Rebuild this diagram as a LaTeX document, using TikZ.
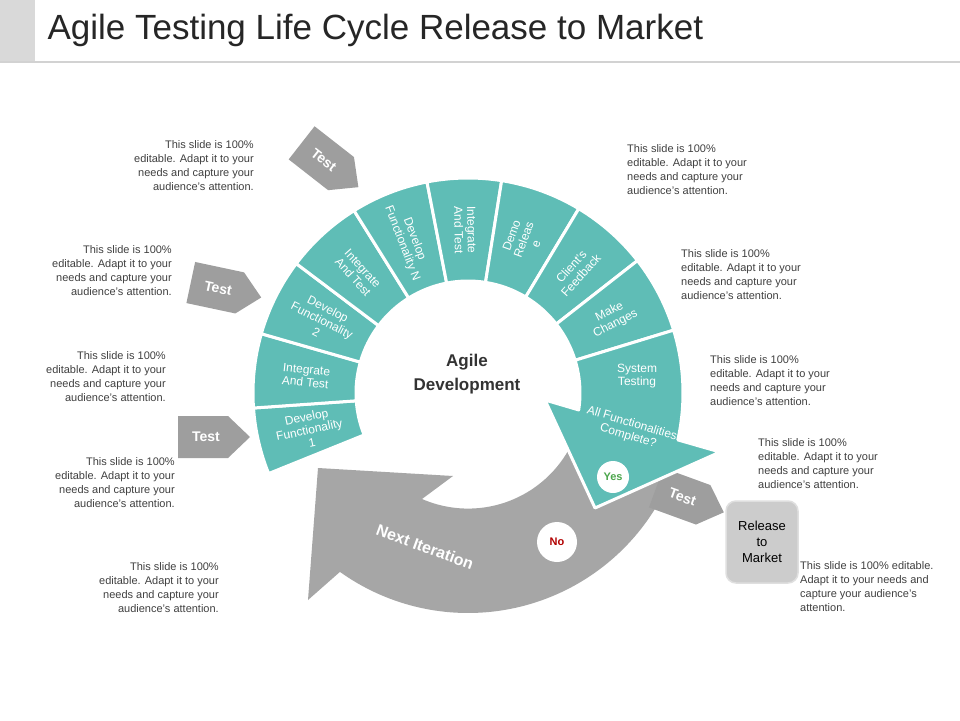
\documentclass[tikz,border=0pt]{standalone}
\usepackage{fontspec}
\setmainfont{Liberation Sans}
\usetikzlibrary{calc}
\definecolor{tealc}{HTML}{5FBDB6}
\definecolor{greya}{HTML}{A6A6A6}
\definecolor{greyt}{HTML}{9E9E9E}
\definecolor{bodyc}{HTML}{404040}
\tikzset{
 segfill/.style={fill=tealc,draw=white,line width=3pt,line join=round},
 segtext/.style={text=white,font=\fontsize{12}{13}\selectfont,align=center},
 note/.style={text=bodyc,font=\fontsize{11}{14}\selectfont,inner sep=0pt,anchor=north},
 testtxt/.style={text=white,font=\bfseries\fontsize{14}{16}\selectfont},
}
\newcommand{\segm}[5]{%
 \fill[segfill] ($(C)+(-#1:215)$) arc[start angle=-#1,end angle=-#2,radius=215]
   -- ($(C)+(-#2:112)$) arc[start angle=-#2,end angle=-#1,radius=112] -- cycle;
 \node[segtext,rotate=#4] (#5) at ($(C)+({-(#1+#2)/2}:163)$) {#3};}
\newcommand{\testarr}[4]{%
 \begin{scope}[shift={(#1,#2)},rotate=#3]
 \fill[greyt] (-36,-21) -- (14,-21) -- (36,0) -- (14,21) -- (-36,21) -- cycle;
 \node[testtxt,rotate=#3] (#4) at (-8,0) {Test};
 \end{scope}}
\begin{document}
\begin{tikzpicture}[x=1pt,y=-1pt]
\useasboundingbox (0,0) rectangle (960,720);
\fill[white] (0,0) rectangle (960,720);
\fill[gray!30] (0,0) rectangle (35,62);
\draw[gray!35,line width=2pt] (0,62) -- (960,62);
\node[anchor=west,font=\fontsize{35}{40}\selectfont,text=black!85] (title) at (44,30) {Agile Testing Life Cycle Release to Market};
\coordinate (C) at (468,393);
% grey arrow
\fill[greya] ($(C)+(22.6:220)$) arc[start angle=22.6,end angle=125.6,radius=220]
  -- (308,600) -- (318,468) -- (453,476) -- (422,499)
  arc[start angle=113.5,end angle=10,radius=115.5] -- cycle;
\node[text=white,font=\bfseries\fontsize{16}{18}\selectfont,rotate=-20] (next) at (425,547) {Next Iteration};
\testarr{690}{500}{-20}{t4}
% segments
\segm{184}{202}{Develop\\Functionality\\1}{12}{s1}
\segm{164}{184}{Integrate\\And Test}{-6}{s2}
\segm{143}{164}{Develop\\Functionality\\2}{-27}{s3}
\segm{122}{143}{Integrate\\And Test}{-48}{s4}
\segm{101}{122}{Develop\\Functionality N}{-69}{s5}
\segm{81}{101}{Integrate\\And Test}{-89}{s6}
\segm{59}{81}{Demo\\Releas\\e}{70}{s7}
\segm{38}{59}{Client's\\Feedback}{48}{s8}
\segm{17}{38}{Make\\Changes}{27}{s9}
\fill[segfill] ($(C)+(-17:215)$) arc[start angle=-17,end angle=12.6,radius=215]
  -- (720,452) -- (595,508) -- (545,400) -- ($(C)+(8.7:112)$)
  arc[start angle=8.7,end angle=-17,radius=112] -- cycle;
\node[segtext] (s10) at (637,376) {System\\Testing};
\node[segtext,rotate=-17] (s11) at (630,430) {All Functionalities\\Complete?};
\node[circle,fill=white,minimum size=32pt,inner sep=0pt,text=green!50!black!70,font=\bfseries\fontsize{11}{12}\selectfont] (yes) at (613,477) {Yes};
\node[circle,fill=white,minimum size=40pt,inner sep=0pt,text=red!70!black,font=\bfseries\fontsize{11}{12}\selectfont] (no) at (557,542) {No};
\node[text=black!80,font=\bfseries\fontsize{17}{24}\selectfont,align=center] (center) at (467,374) {Agile\\Development};
\testarr{330}{165}{-38}{t1}
\testarr{226}{290}{-12}{t2}
\testarr{214}{437}{0}{t3}
\node[draw=gray!25,line width=1.5pt,fill=gray!40,rounded corners=10pt,minimum width=72pt,minimum height=82pt,align=center,font=\fontsize{13}{16}\selectfont] (rel) at (762,542) {Release\\to\\Market};
% notes
\node[note,align=right,anchor=north east] (n1) at (254,140) {This slide is 100\%\\editable. Adapt it to your\\needs and capture your\\audience's attention.};
\node[note,align=right,anchor=north east] (n2) at (172,245) {This slide is 100\%\\editable. Adapt it to your\\needs and capture your\\audience's attention.};
\node[note,align=right,anchor=north east] (n3) at (166,351) {This slide is 100\%\\editable. Adapt it to your\\needs and capture your\\audience's attention.};
\node[note,align=right,anchor=north east] (n4) at (175,457) {This slide is 100\%\\editable. Adapt it to your\\needs and capture your\\audience's attention.};
\node[note,align=right,anchor=north east] (n5) at (219,562) {This slide is 100\%\\editable. Adapt it to your\\needs and capture your\\audience's attention.};
\node[note,align=left,anchor=north west] (n6) at (627,144) {This slide is 100\%\\editable. Adapt it to your\\needs and capture your\\audience's attention.};
\node[note,align=left,anchor=north west] (n7) at (681,249) {This slide is 100\%\\editable. Adapt it to your\\needs and capture your\\audience's attention.};
\node[note,align=left,anchor=north west] (n8) at (710,355) {This slide is 100\%\\editable. Adapt it to your\\needs and capture your\\audience's attention.};
\node[note,align=left,anchor=north west] (n9) at (758,438) {This slide is 100\%\\editable. Adapt it to your\\needs and capture your\\audience's attention.};
\node[note,align=left,anchor=north west] (n10) at (800,561) {This slide is 100\% editable.\\Adapt it to your needs and\\capture your audience's\\attention.};
\end{tikzpicture}
\end{document}
